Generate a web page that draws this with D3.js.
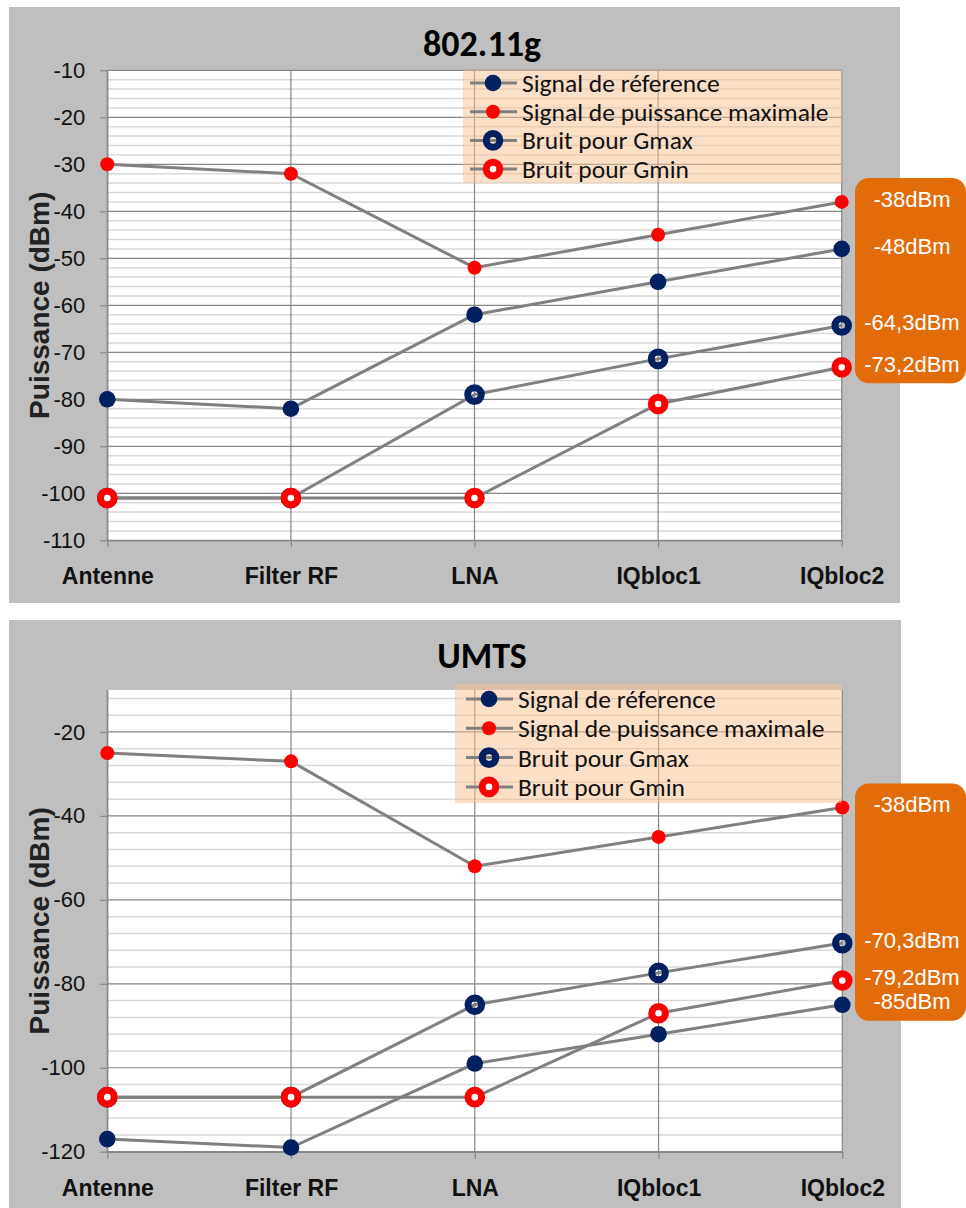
<!DOCTYPE html>
<html>
<head>
<meta charset="utf-8">
<script src="https://cdn.jsdelivr.net/npm/d3@7"></script>
<style>
  body { margin: 0; background: #fff; }
</style>
</head>
<body>
<svg id="chart" width="966" height="1208"></svg>
<script>
// categories along the chain
var categories = ["Antenne", "Filter RF", "LNA", "IQbloc1", "IQbloc2"];
var seriesNames = ["Signal de réference", "Signal de puissance maximale", "Bruit pour Gmax", "Bruit pour Gmin"];

// 802.11g values (dBm)
var wifiRef  = [-80, -82, -62, -55, -48];
var wifiMax  = [-30, -32, -52, -45, -38];
var wifiGmax = [-101, -101, -79, -71.4, -64.3];
var wifiGmin = [-101, -101, -101, -81, -73.2];
var wifiLabels = [{text: "-38dBm", s: 1}, {text: "-48dBm", s: 0}, {text: "-64,3dBm", s: 2}, {text: "-73,2dBm", s: 3}];

// UMTS values (dBm)
var umtsRef  = [-117, -119, -99, -92, -85];
var umtsMax  = [-25, -27, -52, -45, -38];
var umtsGmax = [-107, -107, -85, -77.4, -70.3];
var umtsGmin = [-107, -107, -107, -87, -79.2];
var umtsLabels = [{text: "-38dBm", s: 1}, {text: "-70,3dBm", s: 2}, {text: "-79,2dBm", s: 3}, {text: "-85dBm", s: 0}];

var navy = "#002060", red = "#FF0000", lineGrey = "#808080";
var arial = "'Liberation Sans', Arial, sans-serif";
var calibri = "Carlito, Lato, 'Open Sans', sans-serif";
var markerStyle = [
  {r: 8.3, fill: navy, stroke: "none", sw: 0},
  {r: 7, fill: red, stroke: "none", sw: 0},
  {r: 6.8, fill: "none", stroke: navy, sw: 7},
  {r: 6.8, fill: "#fff", stroke: red, sw: 7}
];

var svg = d3.select("#chart");

function draw_chart(cfg) {
  var g = svg.append("g");

  g.append("rect")
      .attr("x", cfg.panel[0]).attr("y", cfg.panel[1])
      .attr("width", cfg.panel[2]).attr("height", cfg.panel[3])
      .attr("fill", "#BFBFBF");

  var x = d3.scalePoint().domain(categories).range([cfg.left, cfg.right]).padding(0);
  var y = d3.scaleLinear().domain(cfg.domain).range([cfg.bottom, cfg.top]);

  g.append("rect")
      .attr("x", cfg.left).attr("y", cfg.top)
      .attr("width", cfg.right - cfg.left).attr("height", cfg.bottom - cfg.top)
      .attr("fill", "#fff");

  // minor gridlines
  var minor = d3.range(cfg.domain[0], cfg.domain[1] + 0.001, cfg.minor)
      .filter(function(v) { return Math.abs(v % cfg.major) > 0.001; });
  g.selectAll(".minor").data(minor).enter().append("line")
      .attr("x1", cfg.left).attr("x2", cfg.right)
      .attr("y1", function(d) { return y(d); }).attr("y2", function(d) { return y(d); })
      .attr("stroke", "#D9D9D9").attr("stroke-width", 1.5);

  // major gridlines
  g.selectAll(".major").data(cfg.majorTicks).enter().append("line")
      .attr("x1", cfg.left).attr("x2", cfg.right)
      .attr("y1", function(d) { return y(d); }).attr("y2", function(d) { return y(d); })
      .attr("stroke", "#868686").attr("stroke-width", 1.2);

  // vertical category lines
  g.selectAll(".vline").data(categories).enter().append("line")
      .attr("x1", function(d) { return x(d); }).attr("x2", function(d) { return x(d); })
      .attr("y1", cfg.top).attr("y2", cfg.bottom)
      .attr("stroke", "#868686").attr("stroke-width", 1.2);

  var yAxis = g.append("g")
      .attr("transform", "translate(" + cfg.left + ",0)")
      .call(d3.axisLeft(y).tickValues(cfg.majorTicks).tickSize(7).tickSizeOuter(0).tickPadding(15)
        .tickFormat(function(d) { return String(d); }));
  yAxis.select(".domain").attr("stroke", "#868686").attr("stroke-width", 1.2);
  yAxis.selectAll(".tick line").attr("stroke", "#868686").attr("stroke-width", 1.2);
  yAxis.selectAll("text").attr("fill", "#111")
      .style("font-size", "22px").style("font-family", arial);

  var xAxis = g.append("g")
      .attr("transform", "translate(0," + cfg.bottom + ")")
      .call(d3.axisBottom(x).tickSize(7).tickSizeOuter(0));
  xAxis.select(".domain").attr("stroke", "#868686").attr("stroke-width", 1.5);
  xAxis.selectAll(".tick line").attr("stroke", "#868686").attr("stroke-width", 1.2);
  xAxis.selectAll("text").attr("fill", "#111")
      .style("font-size", "23px").style("font-weight", "bold").style("font-family", arial)
      .attr("y", 44).attr("dy", 0);

  // title
  g.append("text")
      .attr("x", 482).attr("y", cfg.titleY)
      .attr("text-anchor", "middle")
      .style("font-family", calibri)
      .style("font-weight", "bold").style("font-size", "36px").attr("fill", "#000")
      .text(cfg.title);

  // y title
  g.append("text")
      .attr("transform", "translate(49," + ((cfg.top + cfg.bottom) / 2) + ")rotate(-90)")
      .attr("text-anchor", "middle")
      .style("font-family", arial)
      .style("font-weight", "bold").style("font-size", "28px").attr("fill", "#222")
      .text("Puissance (dBm)");

  // series
  var line = d3.line()
      .x(function(d, i) { return x(categories[i]); })
      .y(function(d) { return y(d); });

  cfg.series.forEach(function(vals, si) {
    g.append("path")
        .attr("d", line(vals))
        .attr("fill", "none")
        .attr("stroke", lineGrey).attr("stroke-width", 3);
    var ms = markerStyle[si];
    g.selectAll(".m" + si).data(vals).enter().append("circle")
        .attr("cx", function(d, i) { return x(categories[i]); })
        .attr("cy", function(d) { return y(d); })
        .attr("r", ms.r)
        .attr("fill", ms.fill)
        .attr("stroke", ms.stroke).attr("stroke-width", ms.sw);
  });

  // legend
  var lg = cfg.legend;
  g.append("rect")
      .attr("x", lg.x).attr("y", lg.y).attr("width", lg.w).attr("height", lg.h)
      .attr("fill", "#FAC090").attr("fill-opacity", 0.5);
  seriesNames.forEach(function(name, si) {
    var ry = lg.row0 + si * lg.step;
    var ms = markerStyle[si];
    g.append("line")
        .attr("x1", lg.mx - 23).attr("x2", lg.mx + 24)
        .attr("y1", ry).attr("y2", ry)
        .attr("stroke", lineGrey).attr("stroke-width", 3);
    g.append("circle")
        .attr("cx", lg.mx).attr("cy", ry).attr("r", ms.r)
        .attr("fill", ms.fill).attr("stroke", ms.stroke).attr("stroke-width", ms.sw);
    g.append("text")
        .attr("x", lg.mx + 29).attr("y", ry)
        .attr("dy", "0.35em")
        .style("font-family", calibri)
        .style("font-size", "25.5px").attr("fill", "#111")
        .text(name);
  });

  // value labels in the orange box
  var ly = cfg.labels.map(function(l) { return y(cfg.series[l.s][4]) - 3; });
  g.append("rect")
      .attr("x", 855).attr("y", ly[0] - 21)
      .attr("width", 111).attr("height", ly[ly.length - 1] - ly[0] + 40)
      .attr("rx", 14).attr("ry", 14)
      .attr("fill", "#E36C0A");
  g.selectAll(".lbl").data(cfg.labels).enter().append("text")
      .attr("x", 912)
      .attr("y", function(d, i) { return ly[i]; })
      .attr("dy", "0.35em")
      .attr("text-anchor", "middle")
      .style("font-family", arial)
      .style("font-size", "22px").attr("fill", "#fff")
      .text(function(d) { return d.text; });
}

draw_chart({
  title: "802.11g", titleY: 56,
  panel: [9, 7, 891, 596],
  left: 107.3, right: 841.7, top: 70.3, bottom: 540.3,
  domain: [-110, -10], major: 10, minor: 2,
  majorTicks: d3.range(-110, -9, 10),
  series: [wifiRef, wifiMax, wifiGmax, wifiGmin],
  labels: wifiLabels,
  legend: {x: 463, y: 70, w: 379, h: 113, row0: 83, step: 28.7, mx: 493}
});

draw_chart({
  title: "UMTS", titleY: 668,
  panel: [9, 620, 892, 588],
  left: 107.3, right: 842.3, top: 690, bottom: 1151.7,
  domain: [-120, -10], major: 20, minor: 4,
  majorTicks: d3.range(-120, -19, 20),
  series: [umtsRef, umtsMax, umtsGmax, umtsGmin],
  labels: umtsLabels,
  legend: {x: 455, y: 684, w: 387, h: 119, row0: 699, step: 29.3, mx: 489}
});
</script>
</body>
</html>
